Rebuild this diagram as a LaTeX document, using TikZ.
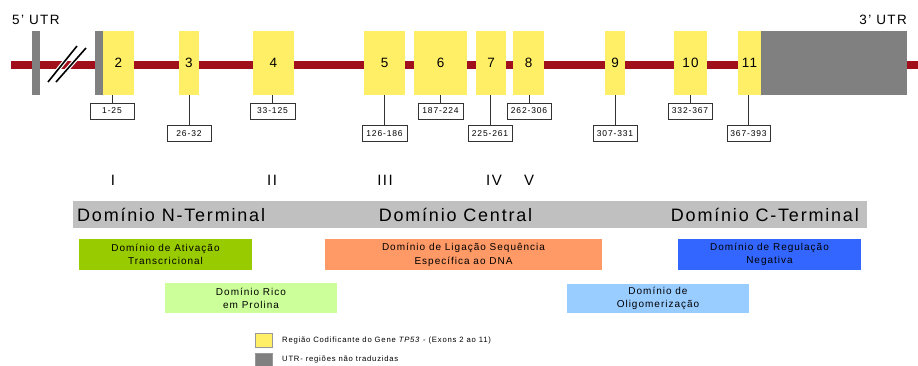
\documentclass[tikz,border=0pt]{standalone}
\usepackage{fontspec}
\setmainfont{Liberation Sans}[LetterSpace=10]
\definecolor{exonyellow}{HTML}{FFEF66}
\definecolor{genered}{HTML}{A00F1A}
\definecolor{utrgrey}{HTML}{808080}
\definecolor{barggrey}{HTML}{C0C0C0}
\definecolor{dgreen}{HTML}{99CC00}
\definecolor{lgreen}{HTML}{CCFF99}
\definecolor{dorange}{HTML}{FF9966}
\definecolor{dblue}{HTML}{3366FF}
\definecolor{lblue}{HTML}{99CCFF}
\newcommand{\fsz}[1]{\fontsize{#1}{#1}\selectfont}
\begin{document}
\begin{tikzpicture}[x=1pt,y=-1pt,
  exonbox/.style={fill=exonyellow, draw=none, inner sep=0pt, minimum height=64pt, text=black, font=\fsz{13.5}},
  utrbox/.style={fill=utrgrey, draw=none, inner sep=0pt, minimum height=64pt},
  poslabel/.style={draw=black!80, line width=0.8pt, fill=white, inner sep=0pt, minimum width=44pt, minimum height=16pt, font=\fsz{8.5}, text=black},
  connline/.style={draw=black!80, line width=0.8pt},
  roman/.style={font=\fsz{15}, text=black, inner sep=0pt},
  domtext/.style={font=\fsz{18}, text=black, inner sep=0pt},
  subdom/.style={draw=none, inner sep=0pt, align=center, font=\fontsize{10}{13}\selectfont, text=black},
  legsq/.style={draw=black!40, line width=0.5pt, inner sep=0pt, minimum width=17pt, minimum height=14pt},
  legtext/.style={font=\fsz{7.7}, text=black, inner sep=0pt, anchor=west}
]
\useasboundingbox (0,0) rectangle (918,365);
% gene line
\coordinate (lineL) at (11,65);
\coordinate (lineR) at (918,65);
\draw[genered, line width=8pt] (lineL) -- (lineR);
% UTR bars
\node[utrbox, minimum width=8pt] (u1) at (36,63) {};
\node[utrbox, minimum width=8pt] (u2) at (99,63) {};
\node[utrbox, minimum width=146pt] (u3) at (834,63) {};
% break marks
\coordinate (s1a) at (48,82); \coordinate (s1b) at (77,46);
\coordinate (s2a) at (56,82); \coordinate (s2b) at (86,48);
\draw[white, line width=4pt] (s1a) -- (s1b) (s2a) -- (s2b);
\draw[black, line width=1.6pt] (s1a) -- (s1b) (s2a) -- (s2b);
% exons
\node[exonbox, minimum width=31pt] (e2) at (118.5,63) {2};
\node[exonbox, minimum width=20pt] (e3) at (189,63) {3};
\node[exonbox, minimum width=41pt] (e4) at (273.5,63) {4};
\node[exonbox, minimum width=41pt] (e5) at (384.5,63) {5};
\node[exonbox, minimum width=53pt] (e6) at (440.5,63) {6};
\node[exonbox, minimum width=30pt] (e7) at (491,63) {7};
\node[exonbox, minimum width=31pt] (e8) at (528.5,63) {8};
\node[exonbox, minimum width=20pt] (e9) at (615,63) {9};
\node[exonbox, minimum width=33pt] (e10) at (690.5,63) {10};
\node[exonbox, minimum width=23pt] (e11) at (749.5,63) {11};
% UTR labels
\node[font=\fsz{13.5}, text=black, inner sep=0pt, anchor=west] (utr5) at (12,20) {5' UTR};
\node[font=\fsz{13.5}, text=black, inner sep=0pt, anchor=east] (utr3) at (907,20) {3' UTR};
% position labels
\node[poslabel] (l2) at (112,111) {1-25};
\node[poslabel] (l3) at (189,133.5) {26-32};
\node[poslabel, minimum width=45pt] (l4) at (272.5,111) {33-125};
\node[poslabel, minimum width=45pt] (l5) at (384.5,133.5) {126-186};
\node[poslabel, minimum width=45pt] (l6) at (440.5,111) {187-224};
\node[poslabel] (l7) at (490,133.5) {225-261};
\node[poslabel] (l8) at (529,111) {262-306};
\node[poslabel] (l9) at (615,133.5) {307-331};
\node[poslabel] (l10) at (690,111) {332-367};
\node[poslabel, minimum width=43pt] (l11) at (748.5,133.5) {367-393};
\foreach \l/\e in {l2/e2,l3/e3,l4/e4,l5/e5,l6/e6,l7/e7,l8/e8,l9/e9,l10/e10,l11/e11}
  \draw[connline] (\l.north) -- (\l.north |- \e.south);
% roman numerals
\node[roman] (r1) at (113,180.5) {I};
\node[roman] (r2) at (272,180.5) {II};
\node[roman] (r3) at (385,180.5) {III};
\node[roman] (r4) at (494,180.5) {IV};
\node[roman] (r5) at (529,180.5) {V};
% domain bar
\node[fill=barggrey, draw=none, inner sep=0pt, minimum width=794pt, minimum height=27pt] (bar) at (470,214.5) {};
\node[domtext, anchor=west] (dn) at (77,215) {Domínio N-Terminal};
\node[domtext] (dc) at (455.5,215) {Domínio Central};
\node[domtext, anchor=east] (dct) at (859,215) {Domínio C-Terminal};
% sub-domains
\node[subdom, fill=dgreen, minimum width=173pt, minimum height=31pt] (ta) at (165.5,254.5) {Domínio de Ativação\\Transcricional};
\node[subdom, fill=lgreen, minimum width=172pt, minimum height=30pt] (pr) at (251,298) {Domínio Rico\\em Prolina};
\node[subdom, fill=dorange, minimum width=277pt, minimum height=31pt, font=\fontsize{10}{14}\selectfont] (dna) at (463.5,254.5) {Domínio de Ligação Sequência\\Específica ao DNA};
\node[subdom, fill=dblue, minimum width=183pt, minimum height=31pt] (neg) at (769.5,254.5) {Domínio de Regulação\\Negativa};
\node[subdom, fill=lblue, minimum width=182pt, minimum height=29pt] (olig) at (658,298.5) {Domínio de\\Oligomerização};
% legend
\node[legsq, fill=exonyellow] (ly) at (263.5,340) {};
\node[legsq, fill=utrgrey] (lg) at (263.5,360) {};
\node[legtext] (lty) at (282,341) {Região Codificante do Gene \textit{TP53} - (Exons 2 ao 11)};
\node[legtext] (ltg) at (282,360) {UTR- regiões não traduzidas};
\end{tikzpicture}
\end{document}
